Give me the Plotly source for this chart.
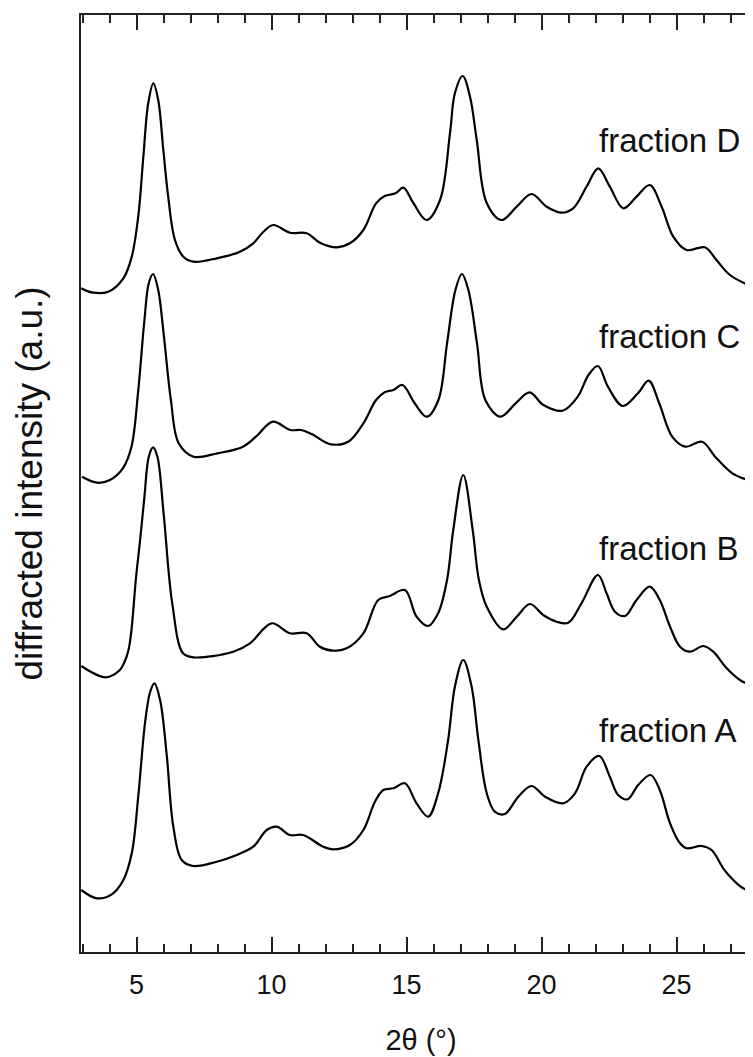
import plotly.graph_objects as go

# 2theta positions and plotted (offset) intensities, a.u.
x_d = [2.95, 3.40, 3.95, 4.51, 4.82, 5.06, 5.25, 5.43, 5.62, 5.80, 5.99, 6.17, 6.42, 6.73, 7.10,
       7.97, 8.83, 9.32, 9.69, 10.06, 10.68, 11.30, 11.79, 12.41, 12.90, 13.40, 13.87, 14.19,
       14.59, 14.88, 15.25, 15.74, 16.24, 16.61, 16.79, 17.08, 17.35, 17.60, 17.97, 18.52, 19.08,
       19.63, 20.19, 20.74, 21.17, 21.67, 22.10, 22.53, 23.03, 23.52, 24.01, 24.45, 24.88, 25.37,
       26.05, 26.48, 26.98, 27.83, 28.13]
y_d = [663.7, 659.3, 660.3, 673.7, 695.3, 735.3, 795.3, 848.7, 868.7, 852, 802, 755.3, 712, 695.3, 690.3,
       693.7, 700.3, 708.7, 720, 727, 719.3, 718.7, 709.3, 704.7, 708.7, 722, 748.7, 756,
       758.7, 764.3, 749, 732, 752, 819, 858.7, 876, 855.3, 812, 749, 732, 745.3,
       758, 745.3, 739.3, 743.7, 765.3, 783.7, 765.3, 743.7, 755.3, 767, 745.3, 715.3, 702,
       704.7, 692, 677, 664.7, 661]

x_c = [2.98, 3.54, 4.01, 4.49, 4.81, 5.05, 5.29, 5.45, 5.61, 5.80, 6.00, 6.27, 6.56, 7.11, 7.99,
       8.94, 9.42, 10.05, 10.69, 11.09, 11.48, 12.20, 12.84, 13.40, 13.87, 14.19, 14.51, 14.85,
       15.30, 15.75, 16.18, 16.50, 16.81, 17.05, 17.29, 17.61, 17.92, 18.48, 19.04, 19.56, 20.07,
       20.78, 21.34, 21.74, 22.09, 22.46, 23.01, 23.57, 23.97, 24.36, 24.84, 25.32, 25.95, 26.43,
       27.07, 27.83, 28.13]
y_c = [475.3, 469.3, 472, 483.7, 505.3, 558.7, 632, 668.7, 678, 662, 618.7, 552, 508.7, 495.3, 498.7,
       505.3, 515.3, 530.3, 522, 522, 518, 507.7, 510.3, 528.7, 552, 559.7, 562, 567,
       548.7, 535.3, 552, 608.7, 662, 678, 662, 608.7, 552, 535.3, 548.7, 559.7, 547,
       541.3, 555.3, 577, 586, 565.3, 546, 558.7, 571.3, 548.7, 515.3, 505.3, 510.3, 495.3,
       478.7, 470.3, 468]

x_b = [2.95, 3.86, 4.38, 4.55, 4.70, 4.81, 4.97, 5.13, 5.29, 5.45, 5.61, 5.77, 6.00, 6.32, 6.72, 7.10,
       8.58, 9.20, 10.00, 10.68, 11.30, 11.79, 12.28, 12.78, 13.40, 13.95, 14.38, 14.94, 15.37, 15.80,
       16.17, 16.50, 16.73, 17.10, 17.45, 17.68, 17.97, 18.58, 19.08, 19.57, 20.06, 20.56, 20.99,
       21.48, 22.09, 22.41, 22.72, 23.09, 23.52, 24.01, 24.38, 24.76, 25.13, 25.50, 25.99, 26.36,
       26.86, 27.35, 27.83, 28.13]
y_b = [286, 274.7, 282, 290, 302, 322, 372, 412, 455.3, 495.3, 504.7, 495.3, 438.7, 348.7, 298.7, 294.7,
       300.3, 308.7, 328.7, 318.7, 318.7, 305.3, 301.3, 303.7, 318.7, 352, 356, 362, 335.3, 326,
       338.7, 372, 422, 477, 422, 372, 345.3, 322.7, 335.3, 348, 337, 330.3, 329.3,
       348.7, 377, 358.7, 340.3, 336, 352, 365.3, 352, 325.3, 305.3, 300.3, 306, 300.3,
       283.7, 272, 266, 263]

x_a = [2.95, 3.52, 4.08, 4.51, 4.82, 5.06, 5.31, 5.50, 5.66, 5.87, 6.11, 6.36, 6.67, 7.10, 7.97,
       8.71, 9.32, 9.82, 10.19, 10.68, 11.17, 11.91, 12.28, 12.90, 13.40, 13.83, 14.14, 14.51,
       14.94, 15.37, 15.80, 16.17, 16.54, 16.79, 17.10, 17.41, 17.66, 17.97, 18.27, 18.64, 19.14,
       19.63, 20.13, 20.80, 21.24, 21.67, 22.14, 22.53, 22.84, 23.19, 23.58, 24.04, 24.38, 24.76,
       25.13, 25.37, 25.93, 26.30, 26.73, 27.10, 27.47, 27.83, 28.13]
y_a = [62, 53.7, 57.7, 72, 98.7, 155.3, 228.7, 260, 268.7, 252, 198.7, 125.3, 92, 86, 90.3,
       97, 105.3, 122, 125.3, 117, 117, 105.3, 102.7, 107, 122, 150.3, 162, 163.7,
       168.7, 148.7, 135.3, 158.7, 212, 265.3, 292, 265.3, 212, 158.7, 140.3, 138, 155.3,
       166, 155.3, 148.7, 158.7, 185.3, 196, 175.3, 157, 152.7, 167, 177, 162, 128.7,
       108.7, 103.7, 106, 102, 83.7, 72, 63.7, 60.3, 59]

labels = ["fraction D", "fraction C", "fraction B", "fraction A"]
label_x = [22.05, 22.05, 22.05, 22.05]
label_y = [812, 615.5, 403.5, 222]

FONT = "Arial, Liberation Sans, sans-serif"

fig = go.Figure()
for xs, ys in [(x_d, y_d), (x_c, y_c), (x_b, y_b), (x_a, y_a)]:
    fig.add_trace(go.Scatter(x=xs, y=ys, mode="lines",
                             line=dict(color="black", width=2.2, shape="spline", smoothing=1.0),
                             showlegend=False, hoverinfo="skip"))

for txt, lx, ly in zip(labels, label_x, label_y):
    fig.add_annotation(x=lx, y=ly, text=txt, showarrow=False, xanchor="left", yanchor="middle",
                       font=dict(family=FONT, size=33, color="#111"))

# page body adds 8px, so margins are pulled in by that much
fig.update_layout(
    width=753, height=1057,
    margin=dict(l=73, r=0, t=7, b=113),
    paper_bgcolor="white", plot_bgcolor="white",
    font=dict(family=FONT, color="#111"),
)
fig.update_xaxes(
    range=[2.94, 28.13], showgrid=False, zeroline=False,
    showline=True, linecolor="#222", linewidth=2, mirror="ticks",
    ticks="inside", ticklen=15, tickwidth=2, tickcolor="#222",
    tick0=0, dtick=5, tickfont=dict(size=27), ticklabelstandoff=8,
    minor=dict(ticks="inside", ticklen=8, tickwidth=2, tickcolor="#222", dtick=1, tick0=0),
    title=dict(text="2θ (°)", font=dict(size=29), standoff=30),
)
fig.update_yaxes(
    range=[0, 937], showgrid=False, zeroline=False,
    showline=True, linecolor="#222", linewidth=2, mirror=False,
    showticklabels=False, ticks="",
    title=dict(text="diffracted intensity (a.u.)", font=dict(size=37), standoff=25),
)

fig.write_html("out.html")
